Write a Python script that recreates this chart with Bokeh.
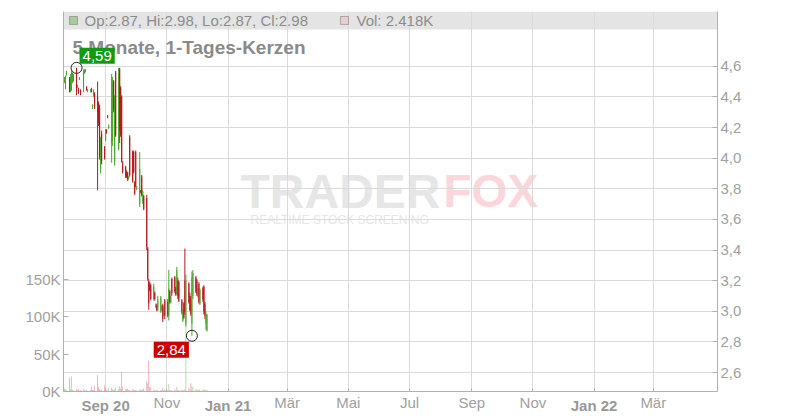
import numpy as np
import pandas as pd
from bokeh.plotting import figure
from bokeh.models import (ColumnDataSource, LinearAxis, DatetimeAxis, Range1d, FixedTicker,
                          Label, BoxAnnotation)
from bokeh.embed import file_html
from bokeh.resources import INLINE

# ---------------- data ----------------
dates = [
    "2020-07-22", "2020-07-23", "2020-07-24", "2020-07-27", "2020-07-28", "2020-07-29", "2020-07-30", "2020-07-31",
    "2020-08-03", "2020-08-04", "2020-08-05", "2020-08-06", "2020-08-07", "2020-08-10", "2020-08-11", "2020-08-12",
    "2020-08-13", "2020-08-14", "2020-08-17", "2020-08-18", "2020-08-19", "2020-08-20", "2020-08-21", "2020-08-24",
    "2020-08-25", "2020-08-26", "2020-08-27", "2020-08-28", "2020-08-31",
    "2020-09-01", "2020-09-02", "2020-09-03", "2020-09-04", "2020-09-07", "2020-09-08", "2020-09-09", "2020-09-10",
    "2020-09-11", "2020-09-14", "2020-09-15", "2020-09-16", "2020-09-17", "2020-09-18", "2020-09-21", "2020-09-22",
    "2020-09-23", "2020-09-24", "2020-09-25", "2020-09-28", "2020-09-29", "2020-09-30",
    "2020-10-01", "2020-10-02", "2020-10-05", "2020-10-06", "2020-10-07", "2020-10-08", "2020-10-09", "2020-10-12",
    "2020-10-13", "2020-10-14", "2020-10-15", "2020-10-16", "2020-10-19", "2020-10-20", "2020-10-21", "2020-10-22",
    "2020-10-23", "2020-10-26", "2020-10-27", "2020-10-28", "2020-10-29", "2020-10-30",
    "2020-11-02", "2020-11-03", "2020-11-04", "2020-11-05", "2020-11-06", "2020-11-09", "2020-11-10", "2020-11-11",
    "2020-11-12", "2020-11-13", "2020-11-16", "2020-11-17", "2020-11-18", "2020-11-19", "2020-11-20", "2020-11-23",
    "2020-11-24", "2020-11-25", "2020-11-26", "2020-11-27", "2020-11-30",
    "2020-12-01", "2020-12-02", "2020-12-03", "2020-12-04", "2020-12-07", "2020-12-08", "2020-12-09", "2020-12-10",
    "2020-12-11",
]
opens = [
    4.50, 4.46, 4.55, 4.50, 4.44, 4.45, 4.50, 4.51,
    4.58, 4.47, 4.45, 4.52, 4.44, 4.45, 4.56, 4.57, 4.46, 4.44, 4.44, 4.45, 4.33, 4.41, 4.42, 4.40, 4.36, 4.33, 3.93, 4.16, 4.07,
    4.12, 4.18, 4.28, 4.20, 4.10, 4.12, 4.50, 3.98, 4.56, 4.06, 4.58, 4.46, 4.40, 3.97, 3.94, 3.91, 3.90, 3.87, 4.14, 4.04, 4.04, 3.84,
    4.04, 3.80, 3.70, 3.79, 3.88, 3.72, 3.75, 3.74, 3.41, 3.20, 3.18, 3.17, 3.08, 3.12, 3.03, 3.04, 3.01, 3.00, 3.01, 3.04, 2.98, 3.07,
    3.06, 2.97, 3.13, 3.06, 3.21, 3.22, 3.15, 3.12, 3.20, 3.19, 3.07, 2.94, 3.05, 3.20, 2.92, 3.18, 3.10, 3.08, 2.92, 3.10, 3.22,
    3.20, 3.10, 3.18, 3.05, 3.15, 3.16, 3.05, 2.92, 2.87,
]
highs = [
    4.53, 4.54, 4.57, 4.53, 4.55, 4.57, 4.56, 4.55,
    4.59, 4.48, 4.46, 4.53, 4.45, 4.58, 4.58, 4.58, 4.47, 4.45, 4.45, 4.46, 4.35, 4.45, 4.43, 4.50, 4.37, 4.35, 4.14, 4.18, 4.08,
    4.19, 4.19, 4.28, 4.22, 4.55, 4.53, 4.51, 4.41, 4.57, 4.59, 4.59, 4.47, 4.41, 3.98, 3.95, 3.92, 3.91, 3.88, 4.15, 4.05, 4.05, 3.85,
    4.05, 3.82, 4.04, 3.79, 3.89, 3.79, 3.76, 3.76, 3.42, 3.21, 3.19, 3.18, 3.18, 3.13, 3.05, 3.05, 3.10, 3.10, 3.04, 3.05, 3.03, 3.08,
    3.08, 3.27, 3.14, 3.10, 3.22, 3.23, 3.16, 3.29, 3.22, 3.20, 3.08, 3.01, 3.06, 3.41, 3.24, 3.19, 3.12, 3.10, 3.26, 3.27, 3.23,
    3.21, 3.15, 3.19, 3.15, 3.16, 3.17, 3.06, 3.00, 2.98,
]
lows = [
    4.49, 4.45, 4.54, 4.43, 4.43, 4.44, 4.49, 4.50,
    4.41, 4.46, 4.42, 4.51, 4.41, 4.43, 4.55, 4.56, 4.44, 4.43, 4.43, 4.43, 4.32, 4.40, 4.32, 3.79, 4.21, 3.99, 3.90, 3.96, 3.99,
    4.11, 4.16, 4.26, 4.19, 3.97, 4.08, 4.30, 3.95, 4.14, 4.05, 4.10, 4.14, 3.97, 3.90, 3.87, 3.87, 3.85, 3.86, 3.88, 3.84, 3.90, 3.76,
    3.81, 3.79, 3.68, 3.77, 3.75, 3.70, 3.66, 3.40, 3.20, 3.01, 3.13, 3.07, 3.07, 3.07, 3.02, 3.00, 3.00, 2.99, 3.00, 2.93, 2.97, 2.95,
    2.96, 2.94, 3.05, 3.05, 3.10, 3.12, 3.10, 3.11, 3.08, 3.06, 2.98, 2.93, 2.95, 2.98, 2.90, 3.05, 3.00, 2.97, 2.84, 3.08, 3.12,
    3.10, 3.09, 3.05, 3.04, 3.06, 2.98, 2.95, 2.88, 2.87,
]
closes = [
    4.52, 4.53, 4.57, 4.45, 4.53, 4.56, 4.55, 4.54,
    4.43, 4.47, 4.43, 4.53, 4.42, 4.57, 4.57, 4.58, 4.45, 4.45, 4.45, 4.44, 4.35, 4.44, 4.33, 4.30, 4.22, 4.01, 4.12, 3.98, 4.00,
    4.18, 4.17, 4.27, 4.21, 4.53, 4.50, 4.32, 4.38, 4.15, 4.55, 4.18, 4.15, 3.98, 3.91, 3.88, 3.88, 3.86, 3.88, 3.89, 3.85, 3.91, 3.77,
    3.82, 3.81, 3.93, 3.78, 3.76, 3.78, 3.67, 3.42, 3.21, 3.05, 3.14, 3.08, 3.16, 3.08, 3.04, 3.01, 3.08, 3.09, 3.03, 2.95, 3.02, 2.97,
    2.97, 3.15, 3.06, 3.09, 3.12, 3.13, 3.11, 3.27, 3.10, 3.07, 3.00, 3.00, 2.96, 3.00, 3.20, 3.06, 3.01, 2.98, 3.22, 3.25, 3.13,
    3.11, 3.14, 3.06, 3.14, 3.08, 3.00, 2.97, 2.98, 2.98,
]
volumes = [
    4000, 3000, 2000, 18000, 3000, 20000, 2000, 2000,
    3000, 2000, 3000, 1000, 2000, 3000, 2000, 1000, 2000, 1000, 2000, 6000, 2000, 2000, 7000, 22000, 6000, 3000, 2000, 3000, 8000,
    2000, 2000, 1000, 5000, 5000, 3000, 2000, 3000, 5000, 3000, 7000, 4000, 26000, 6000, 3000, 3000, 4000, 2000, 2000, 3000, 2000, 2000,
    2000, 1000, 3000, 2000, 2000, 3000, 4000, 14000, 11000, 41000, 6000, 5000, 2000, 2000, 1000, 2000, 2000, 2000, 2000, 5000, 2000, 3000,
    2000, 10000, 2000, 2000, 2000, 3000, 2000, 6000, 2000, 2000, 2000, 2000, 2000, 3000, 96000, 5000, 3000, 11000, 7000, 6000, 3000,
    2000, 2000, 3000, 2000, 2000, 3000, 2000, 2000, 2418,
]

month_ticks = ["2020-09-01", "2020-11-01", "2021-01-01", "2021-03-01", "2021-05-01",
               "2021-07-01", "2021-09-01", "2021-11-01", "2022-01-01", "2022-03-01"]
month_labels = ["Sep 20", "Nov", "Jan 21", "Mär", "Mai", "Jul", "Sep", "Nov", "Jan 22", "Mär"]
month_bold = [True, False, True, False, False, False, False, False, True, False]

price_ticks = [2.6, 2.8, 3.0, 3.2, 3.4, 3.6, 3.8, 4.0, 4.2, 4.4, 4.6]
vol_ticks = [0, 50000, 100000, 150000]

title_text = "5 Monate, 1-Tages-Kerzen"

# ---------------- helpers ----------------
def ms(s):
    return pd.Timestamp(s).value / 1e6

X0, X1 = ms("2020-07-21"), ms("2022-05-04")
P0, P1 = 2.476, 4.958
V1 = 508000
FW, FH = 654, 381
DAY = 86400000.0

def xpx(px):   # pixels from frame left -> data x
    return X0 + px * (X1 - X0) / FW

def ypx(px):   # pixels from frame top -> price
    return P1 - px * (P1 - P0) / FH

UP, DOWN = "#4ba72b", "#b5171d"
VUP, VDOWN = "#a3d896", "#eea2ac"
FONT = "Liberation Sans"
AXC, LABC = "#b0b0b0", "#a0a0a0"

t = np.array([ms(d) for d in dates])
o, h, l, c, v = map(np.array, (opens, highs, lows, closes, volumes))
up = c >= o

src = ColumnDataSource(dict(
    t=t, o=o, h=h, l=l, c=c, v=v,
    top=np.maximum(o, c), bot=np.minimum(o, c),
    col=np.where(up, UP, DOWN), vcol=np.where(up, VUP, VDOWN),
))

p = figure(width=792, height=416, x_axis_type="datetime", y_axis_location="right",
           x_range=Range1d(X0, X1), y_range=Range1d(P0, P1),
           output_backend="svg", toolbar_location=None,
           min_border_left=63, min_border_right=75, min_border_top=11, min_border_bottom=22)
p.outline_line_color = None
p.background_fill_color = "white"
p.border_fill_color = "white"
p.extra_y_ranges = {"vol": Range1d(0, V1)}

# grids
p.ygrid.ticker = FixedTicker(ticks=price_ticks)
p.ygrid.grid_line_color = "#dadada"
tick_ms = [ms(d) for d in month_ticks]
xt = FixedTicker(ticks=tick_ms)
p.xaxis.ticker = xt
p.xgrid.ticker = xt
p.xgrid.grid_line_color = "#dadada"

# right price axis
ra = p.yaxis[0]
ra.ticker = FixedTicker(ticks=price_ticks)
ra.major_label_overrides = {tv: f"{tv:.1f}".replace(".", ",") for tv in price_ticks}
ra.major_tick_in = 5
ra.major_tick_out = 0
ra.minor_tick_line_color = None
ra.major_label_standoff = 3

# left volume axis
la = LinearAxis(y_range_name="vol", ticker=FixedTicker(ticks=vol_ticks))
la.major_label_overrides = {tv: f"{tv // 1000}K" for tv in vol_ticks}
la.major_tick_in = 5
la.major_tick_out = 0
la.minor_tick_line_color = None
la.major_label_standoff = 3
p.add_layout(la, "left")

# bottom axis: normal month labels
xa = p.xaxis[0]
xa.major_label_overrides = {tv: ("" if b else lab) for tv, lab, b in zip(tick_ms, month_labels, month_bold)}
xa.major_tick_in = 3
xa.major_tick_out = 0
xa.minor_tick_line_color = None
xa.major_label_standoff = 2

# second bottom axis: bold year labels, pulled up onto the same line
xb = DatetimeAxis(ticker=xt)
xb.major_label_overrides = {tv: (lab if b else "") for tv, lab, b in zip(tick_ms, month_labels, month_bold)}
xb.axis_line_color = None
xb.major_tick_line_color = None
xb.minor_tick_line_color = None
xb.major_tick_in = 0
xb.major_tick_out = 0
xb.major_label_standoff = -17
xb.major_label_text_font_style = "bold"
p.add_layout(xb, "below")

for ax in (ra, la, xa):
    ax.axis_line_color = AXC
    ax.major_tick_line_color = AXC
for ax in (ra, la, xa, xb):
    ax.major_label_text_color = LABC
    ax.major_label_text_font = FONT
    ax.major_label_text_font_size = "15px"
xb.major_label_text_color = "#999999"

# legend bar at the top of the frame
p.add_layout(BoxAnnotation(bottom=ypx(18), fill_color="#e4e4e4", fill_alpha=1.0,
                           line_color=None, level="image"))

# watermark
p.add_layout(Label(x=xpx(177), y=ypx(180), text="TRADER", text_font=FONT, text_font_style="bold",
                   text_font_size="48px", text_color="#e6e6e6", text_baseline="middle", level="image"))
p.add_layout(Label(x=xpx(380), y=ypx(180), text="FOX", text_font=FONT, text_font_style="bold",
                   text_font_size="46px", text_color="#fbd6db", text_baseline="middle", level="image"))
p.add_layout(Label(x=xpx(187), y=ypx(209), text="REALTIME STOCK SCREENING", text_font=FONT,
                   text_font_size="12px", text_color="#e6e6e6", text_baseline="middle", level="image"))

# volume bars
p.vbar(x="t", width=DAY * 0.8, top="v", bottom=0, source=src, y_range_name="vol",
       fill_color="vcol", line_color=None)

# candles
p.segment(x0="t", y0="l", x1="t", y1="h", source=src, line_color="col", line_width=1)
p.vbar(x="t", width=DAY * 1.0, top="top", bottom="bot", source=src, fill_color="col", line_color=None)

# high / low markers
ih, il = int(np.argmax(h)), int(np.argmin(l))
p.scatter(x=[t[ih], t[il]], y=[h[ih], l[il]], size=11, marker="circle",
          fill_color=None, line_color="#222222", line_width=1)

# title
p.add_layout(Label(x=xpx(9), y=ypx(36), text=title_text, text_font=FONT, text_font_style="bold",
                   text_font_size="19px", text_color="#8a8a8a", text_baseline="middle"))

p.add_layout(Label(x=t[ih], y=h[ih], x_offset=3, y_offset=4,
                   text=f"{h[ih]:.2f}".replace(".", ","), text_font=FONT, text_font_size="15px",
                   text_color="white", background_fill_color="#0f9a0f", text_baseline="bottom",
                   text_align="left", padding=3))
p.add_layout(Label(x=t[il], y=l[il], x_offset=-3, y_offset=-6,
                   text=f"{l[il]:.2f}".replace(".", ","), text_font=FONT, text_font_size="15px",
                   text_color="white", background_fill_color="#cc0000", text_baseline="top",
                   text_align="right", padding=3))

# legend bar contents
p.add_layout(BoxAnnotation(left=xpx(6), right=xpx(14), top=ypx(5), bottom=ypx(13),
                           fill_color=UP, line_color="#333333", line_width=1))
p.add_layout(Label(x=xpx(21), y=ypx(9),
                   text=f"Op:{o[-1]:.2f}, Hi:{h[-1]:.2f}, Lo:{l[-1]:.2f}, Cl:{c[-1]:.2f}",
                   text_font=FONT, text_font_size="15px", text_color="#8c8c8c", text_baseline="middle"))
p.add_layout(BoxAnnotation(left=xpx(277), right=xpx(285), top=ypx(5), bottom=ypx(13),
                           fill_color="#f0a9b1", line_color="#333333", line_width=1))
p.add_layout(Label(x=xpx(293), y=ypx(9), text=f"Vol: {v[-1] / 1000:.3f}K",
                   text_font=FONT, text_font_size="15px", text_color="#8c8c8c", text_baseline="middle"))

open("out.html", "w").write(file_html(p, INLINE))
